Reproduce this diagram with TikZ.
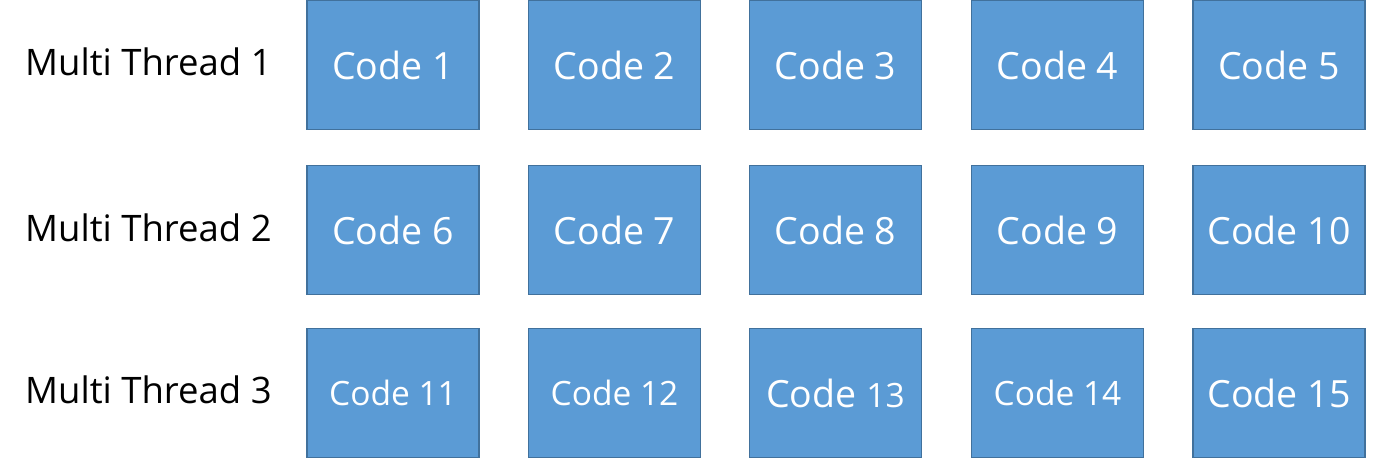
\documentclass[tikz,border=0pt]{standalone}
\usepackage{fontspec}
\setmainfont{Open Sans}
\usepackage{tikz,xcolor}
\definecolor{codefill}{HTML}{5B9BD5}
\definecolor{codeline}{HTML}{41719C}
\tikzset{
	codebox/.style={draw=codeline, fill=codefill, line width=1.5pt, minimum width=172pt, minimum height=129pt, inner sep=0pt, text=white, font=\fontsize{37.5}{40}\selectfont},
	threadlabel/.style={anchor=west, inner sep=0pt, font=\fontsize{36.5}{40}\selectfont},
}
\newcommand{\smallnum}{\fontsize{33.5}{40}\selectfont}

\begin{document}
\begin{tikzpicture}[x=1pt, y=-1pt]
				\useasboundingbox (0,0) rectangle (1379,459);
				% thread names
				\node[threadlabel] (t1) at (25,62) {Multi Thread 1};
				\node[threadlabel] (t2) at (25,228) {Multi Thread 2};
				\node[threadlabel] (t3) at (25,390) {Multi Thread 3};
				% first thread
				\node[codebox] (c1) at (393,65) {Code 1};
				\node[codebox] (c2) at (614.5,65) {Code 2};
				\node[codebox] (c3) at (835.5,65) {Code 3};
				\node[codebox] (c4) at (1057.5,65) {Code 4};
				\node[codebox] (c5) at (1279,65) {Code 5};
				% second thread
				\node[codebox] (c6) at (393,230) {Code 6};
				\node[codebox] (c7) at (614.5,230) {Code 7};
				\node[codebox] (c8) at (835.5,230) {Code 8};
				\node[codebox] (c9) at (1057.5,230) {Code 9};
				\node[codebox] (c10) at (1279,230) {Code 10};
				% third thread
				\node[codebox, font=\smallnum] (c11) at (393,393) {Code 11};
				\node[codebox, font=\smallnum] (c12) at (614.5,393) {Code 12};
				\node[codebox] (c13) at (835.5,393) {Code {\smallnum 13}};
				\node[codebox, font=\smallnum] (c14) at (1057.5,393) {Code 14};
				\node[codebox] (c15) at (1279,393) {Code 15};
			\end{tikzpicture}
\end{document}
